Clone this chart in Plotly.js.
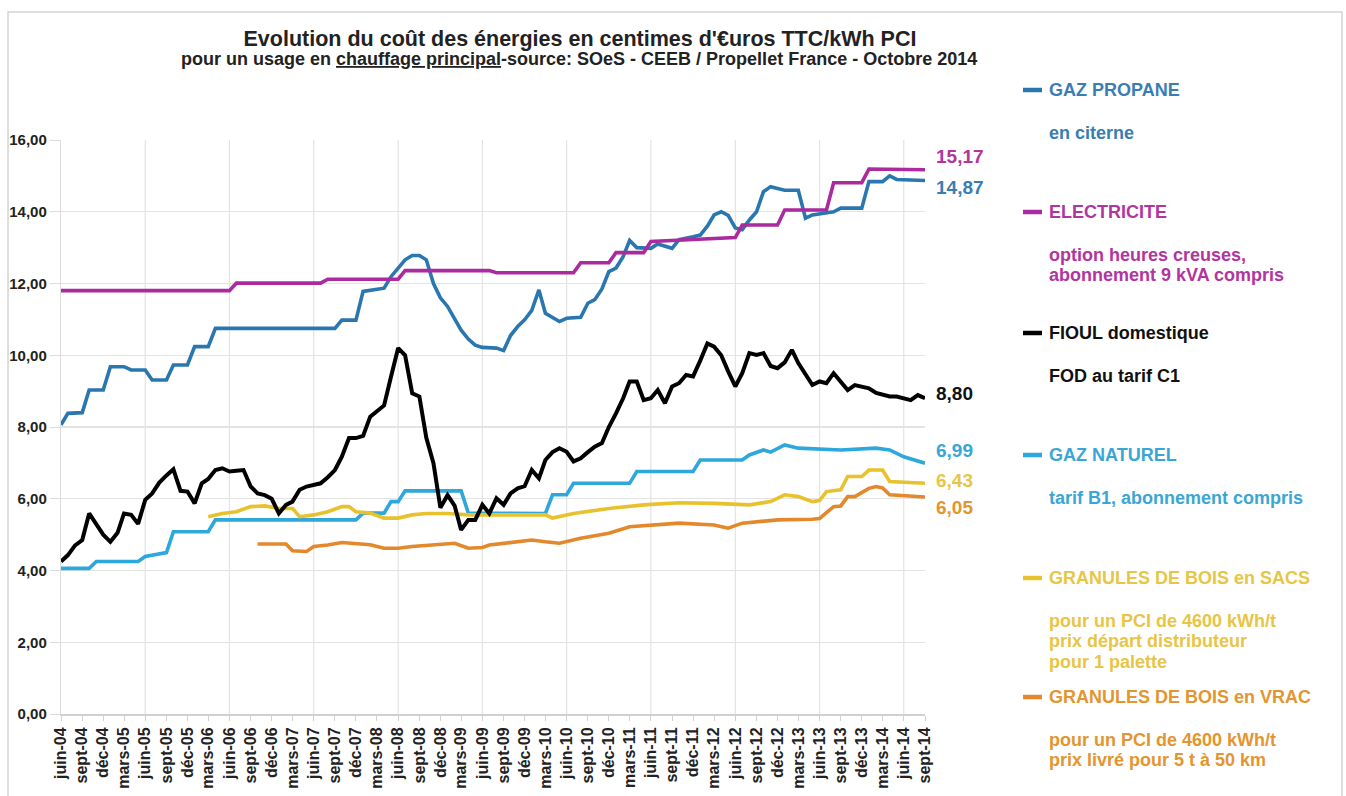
<!DOCTYPE html>
<html>
<head>
<meta charset="utf-8">
<script src="https://cdn.plot.ly/plotly-3.0.1.min.js"></script>
<style>html,body{margin:0;padding:0;background:#fff;}#chart{width:1346px;height:796px;}</style>
</head>
<body>
<div id="chart"></div>
<script>
// ---------------- DATA ----------------
const tickLabels = ['juin-04','sept-04','déc-04','mars-05','juin-05','sept-05','déc-05','mars-06','juin-06','sept-06','déc-06','mars-07','juin-07','sept-07','déc-07','mars-08','juin-08','sept-08','déc-08','mars-09','juin-09','sept-09','déc-09','mars-10','juin-10','sept-10','déc-10','mars-11','juin-11','sept-11','déc-11','mars-12','juin-12','sept-12','déc-12','mars-13','juin-13','sept-13','déc-13','mars-14','juin-14','sept-14'];

const propaneDates = ['2004-06','2004-07','2004-09','2004-10','2004-12','2005-01','2005-03','2005-04','2005-06','2005-07','2005-09','2005-10','2005-12','2006-01','2006-03','2006-04','2007-09','2007-10','2007-12','2008-01','2008-04','2008-05','2008-07','2008-08','2008-09','2008-10','2008-11','2008-12','2009-01','2009-02','2009-03','2009-04','2009-05','2009-06','2009-08','2009-09','2009-10','2009-11','2009-12','2010-01','2010-02','2010-03','2010-04','2010-05','2010-06','2010-08','2010-09','2010-10','2010-11','2010-12','2011-01','2011-02','2011-03','2011-04','2011-06','2011-07','2011-09','2011-10','2011-12','2012-01','2012-02','2012-03','2012-04','2012-05','2012-06','2012-07','2012-08','2012-09','2012-10','2012-11','2012-12','2013-01','2013-03','2013-04','2013-05','2013-07','2013-08','2013-09','2013-12','2014-01','2014-03','2014-04','2014-05','2014-09'];
const propaneValues = [8.06,8.38,8.40,9.03,9.03,9.68,9.68,9.59,9.59,9.31,9.31,9.73,9.73,10.24,10.24,10.75,10.75,10.98,10.98,11.78,11.87,12.19,12.66,12.78,12.78,12.66,12.00,11.60,11.36,11.00,10.70,10.45,10.28,10.22,10.20,10.13,10.55,10.80,10.99,11.25,11.82,11.17,11.05,10.94,11.03,11.06,11.45,11.55,11.85,12.33,12.43,12.75,13.20,13.00,12.98,13.10,12.98,13.22,13.30,13.35,13.60,13.91,14.00,13.90,13.55,13.50,13.77,14.00,14.56,14.70,14.65,14.60,14.60,13.82,13.91,13.96,14.00,14.10,14.10,14.84,14.84,15.00,14.90,14.87];

const elecDates = ['2004-06','2006-06','2006-07','2007-07','2007-08','2008-06','2008-07','2009-07','2009-08','2010-07','2010-08','2010-12','2011-01','2011-05','2011-06','2011-12','2012-06','2012-07','2012-12','2013-01','2013-07','2013-08','2013-12','2014-01','2014-09'];
const elecValues = [11.80,11.80,12.01,12.01,12.12,12.12,12.36,12.36,12.30,12.30,12.58,12.58,12.86,12.86,13.17,13.22,13.28,13.63,13.63,14.05,14.05,14.81,14.81,15.19,15.17];

const fioulStart = '2004-06';
const fioulValues = [4.25,4.43,4.70,4.85,5.59,5.30,5.00,4.80,5.05,5.59,5.55,5.30,5.97,6.15,6.45,6.65,6.82,6.22,6.20,5.87,6.43,6.55,6.80,6.85,6.76,6.78,6.80,6.34,6.15,6.10,6.00,5.59,5.83,5.92,6.25,6.34,6.40,6.43,6.60,6.80,7.17,7.69,7.69,7.75,8.29,8.45,8.60,9.40,10.20,10.00,8.94,8.85,7.70,6.99,5.75,6.10,5.80,5.13,5.41,5.41,5.83,5.59,6.01,5.83,6.15,6.29,6.35,6.80,6.57,7.08,7.30,7.41,7.31,7.04,7.13,7.30,7.45,7.55,8.00,8.38,8.80,9.27,9.27,8.75,8.80,9.03,8.66,9.13,9.22,9.45,9.41,9.85,10.33,10.24,10.00,9.55,9.13,9.50,10.06,10.01,10.06,9.70,9.64,9.80,10.15,9.78,9.45,9.17,9.27,9.22,9.50,9.25,9.03,9.17,9.12,9.08,8.95,8.89,8.85,8.85,8.80,8.75,8.89,8.80];

const gazDates = ['2004-06','2004-10','2004-11','2005-05','2005-06','2005-09','2005-10','2006-03','2006-04','2007-12','2008-01','2008-04','2008-05','2008-06','2008-07','2009-03','2009-04','2010-03','2010-04','2010-06','2010-07','2011-03','2011-04','2011-12','2012-01','2012-07','2012-08','2012-10','2012-11','2013-01','2013-03','2013-09','2014-02','2014-04','2014-06','2014-09'];
const gazValues = [4.06,4.06,4.25,4.25,4.39,4.50,5.08,5.08,5.41,5.41,5.60,5.60,5.92,5.92,6.22,6.22,5.60,5.59,6.11,6.11,6.43,6.43,6.76,6.76,7.08,7.08,7.22,7.36,7.30,7.50,7.41,7.36,7.41,7.36,7.17,6.99];

const sacsDates = ['2006-03','2006-05','2006-07','2006-09','2006-11','2007-01','2007-03','2007-04','2007-06','2007-08','2007-10','2007-11','2007-12','2008-02','2008-04','2008-06','2008-08','2008-10','2009-01','2009-04','2010-03','2010-04','2010-07','2010-12','2011-05','2011-10','2012-03','2012-08','2012-11','2013-01','2013-03','2013-05','2013-06','2013-07','2013-09','2013-10','2013-12','2014-01','2014-03','2014-04','2014-09'];
const sacsValues = [5.50,5.59,5.64,5.78,5.80,5.73,5.73,5.50,5.55,5.64,5.78,5.78,5.64,5.60,5.46,5.46,5.55,5.59,5.59,5.55,5.55,5.46,5.59,5.73,5.83,5.89,5.87,5.83,5.92,6.11,6.06,5.92,5.95,6.20,6.25,6.62,6.62,6.80,6.80,6.48,6.43];

const vracDates = ['2006-10','2007-02','2007-03','2007-05','2007-06','2007-08','2007-10','2007-12','2008-02','2008-04','2008-06','2008-08','2008-12','2009-02','2009-04','2009-06','2009-07','2009-12','2010-01','2010-03','2010-05','2010-08','2010-12','2011-03','2011-10','2012-03','2012-05','2012-07','2012-12','2013-05','2013-06','2013-08','2013-09','2013-10','2013-11','2014-01','2014-02','2014-03','2014-04','2014-09'];
const vracValues = [4.74,4.74,4.55,4.53,4.67,4.71,4.78,4.76,4.72,4.62,4.62,4.67,4.74,4.76,4.62,4.64,4.71,4.82,4.85,4.80,4.76,4.90,5.04,5.22,5.32,5.27,5.18,5.32,5.41,5.43,5.45,5.78,5.80,6.06,6.06,6.29,6.34,6.30,6.11,6.05];

const seriesNames = ['GAZ PROPANE','ELECTRICITE','FIOUL domestique','GAZ NATUREL','GRANULES DE BOIS en SACS','GRANULES DE BOIS en VRAC'];
const seriesNotes = [
  ['en citerne'],
  ['option heures creuses,','abonnement 9 kVA compris'],
  ['FOD au tarif C1'],
  ['tarif B1, abonnement compris'],
  ['pour un PCI de 4600 kWh/t','prix départ distributeur','pour 1 palette'],
  ['pour un PCI de 4600 kWh/t','prix livré pour 5 t à 50 km']
];

// ---------------- STYLE ----------------
const FONT = 'Liberation Sans, Arial, sans-serif';
const lineColors = ['#2a77b0','#ac2a9f','#000000','#2ea7dc','#e8c22c','#e3892c'];
const textColors = ['#3a7db3','#b2359f','#111111','#3aa6d6','#e7c545','#e3952f'];
const W = 1346, H = 796, L = 61, R = 925, T = 140, B = 714;
const px = x => (x - L) / (R - L);
const py = y => (B - y) / (B - T);

function monthSeq(start, n) {
  const [y, m] = start.split('-').map(Number);
  const out = [];
  for (let i = 0; i < n; i++) {
    const t = (m - 1) + i;
    out.push((y + Math.floor(t / 12)) + '-' + String(t % 12 + 1).padStart(2, '0'));
  }
  return out;
}
const allMonths = monthSeq('2004-06', 124);
const tickVals = allMonths.filter((d, i) => i % 3 === 0);
const juneVals = allMonths.filter(d => d.endsWith('-06'));
const fioulDates = monthSeq(fioulStart, fioulValues.length);

const seriesX = [propaneDates, elecDates, fioulDates, gazDates, sacsDates, vracDates];
const seriesY = [propaneValues, elecValues, fioulValues, gazValues, sacsValues, vracValues];
const drawOrder = [3, 4, 5, 0, 1, 2];
const widths = [3.6, 3.6, 4, 3.6, 3.6, 3.6];

const traces = drawOrder.map(i => ({
  type: 'scatter', mode: 'lines', name: seriesNames[i],
  x: seriesX[i], y: seriesY[i],
  line: {color: lineColors[i], width: widths[i]},
  showlegend: false, hoverinfo: 'x+y'
}));

// end-of-line value labels
const endShift = [-7, 13, 5, 13, 3, -11];
const annotations = [];
for (let i = 0; i < 6; i++) {
  const xs = seriesX[i], ys = seriesY[i];
  const v = ys[ys.length - 1];
  annotations.push({
    xref: 'x', yref: 'y', x: xs[xs.length - 1], y: v,
    text: '<b>' + v.toFixed(2).replace('.', ',') + '</b>',
    showarrow: false, xanchor: 'left', yanchor: 'middle', xshift: 9, yshift: endShift[i],
    font: {family: FONT, size: 19, color: textColors[i]}
  });
}

// yearly vertical gridlines (each June)
const shapes = juneVals.slice(1).map(d => ({
  type: 'line', xref: 'x', yref: 'paper', x0: d, x1: d, y0: 0, y1: 1,
  layer: 'below', line: {color: '#e3e3e3', width: 1.2}
}));

// legend block (right side)
const headerY = [90, 212, 333, 455, 578, 697];
for (let i = 0; i < 6; i++) {
  annotations.push({
    xref: 'paper', yref: 'paper', x: px(1047), y: py(headerY[i]),
    text: '<b>' + seriesNames[i] + '</b>', showarrow: false,
    xanchor: 'left', yanchor: 'middle',
    font: {family: FONT, size: 18, color: textColors[i]}
  });
  seriesNotes[i].forEach((t, k) => {
    annotations.push({
      xref: 'paper', yref: 'paper', x: px(1047), y: py(headerY[i] + 42.5 + k * 20.8),
      text: '<b>' + t + '</b>', showarrow: false,
      xanchor: 'left', yanchor: 'middle',
      font: {family: FONT, size: 18, color: textColors[i]}
    });
  });
  shapes.push({
    type: 'line', xref: 'paper', yref: 'paper',
    x0: px(1023), x1: px(1042), y0: py(headerY[i]), y1: py(headerY[i]),
    line: {color: lineColors[i], width: 4.5}
  });
}

// subtitle
annotations.push({
  xref: 'paper', yref: 'paper', x: px(579), y: py(59),
  text: '<b>pour un usage en <u>chauffage principal</u>-source: SOeS - CEEB / Propellet France - Octobre 2014</b>',
  showarrow: false, xanchor: 'center', yanchor: 'middle',
  font: {family: FONT, size: 18, color: '#222'}
});

// outer border
shapes.push({
  type: 'rect', xref: 'paper', yref: 'paper', layer: 'below',
  x0: px(8), x1: px(1342), y0: py(802), y1: py(12),
  line: {color: '#d4d4d4', width: 1.5}, fillcolor: 'rgba(0,0,0,0)'
});

const layout = {
  width: W, height: H,
  margin: {l: L, r: W - R, t: T, b: H - B, pad: 0},
  paper_bgcolor: '#ffffff', plot_bgcolor: '#ffffff',
  separators: ', ',
  font: {family: FONT, color: '#222'},
  title: {
    text: "<b>Evolution du coût des énergies en centimes d'€uros TTC/kWh PCI</b>",
    xref: 'container', yref: 'container', x: 580 / W, y: 1 - 38 / H,
    xanchor: 'center', yanchor: 'middle',
    font: {family: FONT, size: 21.5, color: '#222'}
  },
  xaxis: {
    type: 'date', range: ['2004-06-01', '2014-09-01'],
    tickmode: 'array', tickvals: tickVals, ticktext: tickLabels,
    tickangle: -90, ticks: 'outside', ticklen: 5, tickcolor: '#d0d0d0',
    tickfont: {family: FONT, size: 16, color: '#222', weight: 'bold'},
    showgrid: false, showline: true, linecolor: '#d0d0d0', linewidth: 2,
    zeroline: false, fixedrange: true
  },
  yaxis: {
    range: [0, 16], dtick: 2, tick0: 0, tickformat: '.2f',
    ticks: 'outside', ticklen: 10, tickcolor: '#dcdcdc',
    tickfont: {family: FONT, size: 15, color: '#222', weight: 'bold'},
    showgrid: true, gridcolor: '#e3e3e3', gridwidth: 1.2,
    showline: true, linecolor: '#dcdcdc', linewidth: 1.2,
    zeroline: false, fixedrange: true
  },
  annotations: annotations,
  shapes: shapes,
  showlegend: false
};

Plotly.newPlot('chart', traces, layout, {displayModeBar: false, staticPlot: true});
</script>
</body>
</html>
